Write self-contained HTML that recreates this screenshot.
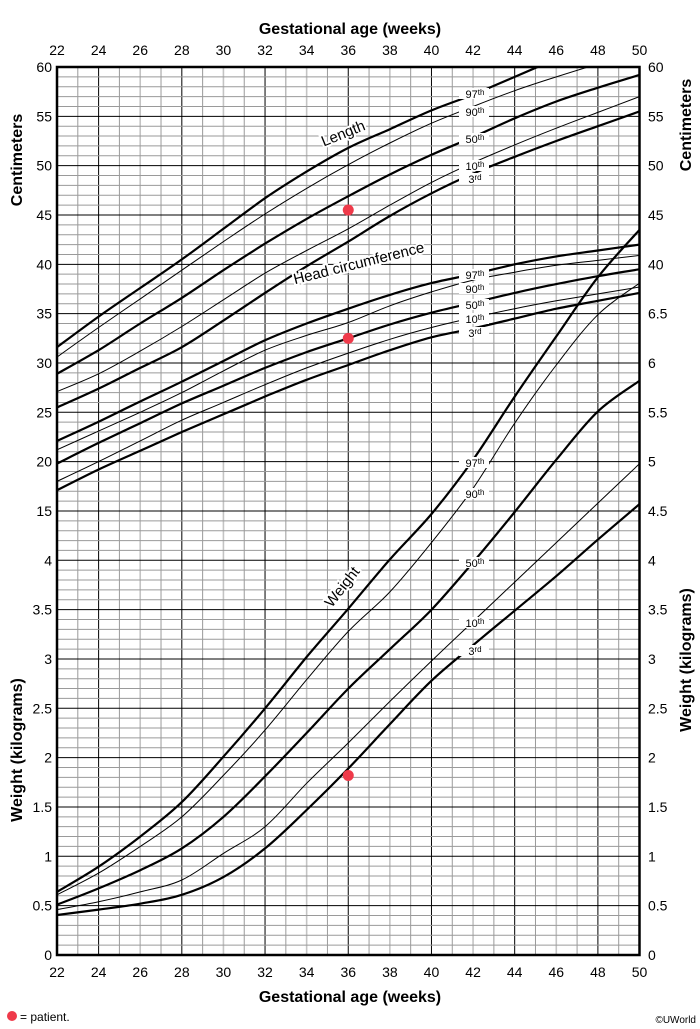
<!DOCTYPE html>
<html><head><meta charset="utf-8"><style>
html,body{margin:0;padding:0;background:#fff;}
svg{display:block;font-family:"Liberation Sans",Arial,sans-serif;}
</style></head><body>
<svg id="chart" width="700" height="1029" viewBox="0 0 700 1029" xmlns="http://www.w3.org/2000/svg">
<g id="grid"></g>
<g id="curves"></g>
<g id="labels"></g>
<g id="axes"></g>
</svg>
<script>
const weeks = [22,24,26,28,30,32,34,36,38,40,42,44,46,48,50];
const lenP97 = [31.6,34.7,37.6,40.5,43.6,46.7,49.4,51.8,53.7,55.6,57.2,59.0,60.8,62.5,64.0];
const lenP90 = [30.6,33.6,36.5,39.4,42.3,45.1,47.7,50.1,52.3,54.3,56.0,57.6,59.0,60.3,61.5];
const lenP50 = [28.9,31.3,34.0,36.6,39.4,42.1,44.6,46.9,49.1,51.1,52.9,54.8,56.5,57.9,59.2];
const lenP10 = [27.1,28.9,31.2,33.7,36.4,39.1,41.4,43.6,46.0,48.3,50.3,52.1,53.8,55.4,57.0];
const lenP3  = [25.5,27.4,29.5,31.6,34.3,37.1,39.8,42.3,44.9,47.2,49.2,50.9,52.5,54.0,55.5];
const hcP97 = [22.1,24.05,26.1,28.1,30.2,32.3,34.0,35.5,36.9,38.1,39.0,40.0,40.8,41.4,42.0];
const hcP90 = [21.2,23.1,25.0,27.0,29.2,31.3,32.8,34.1,35.8,37.2,38.4,39.2,39.9,40.4,40.9];
const hcP50 = [19.8,21.9,23.9,25.9,27.7,29.5,31.1,32.5,33.9,35.1,36.1,37.1,38.0,38.8,39.5];
const hcP10 = [18.0,20.0,22.1,24.2,26.0,27.8,29.5,31.0,32.4,33.6,34.6,35.5,36.3,37.0,37.7];
const hcP3  = [17.1,19.2,21.1,23.0,24.8,26.6,28.3,29.8,31.3,32.6,33.5,34.5,35.5,36.3,37.1];
const wtP97 = [0.64,0.895,1.20,1.55,2.01,2.50,3.02,3.51,4.01,4.47,5.02,5.66,6.27,6.87,7.35];
const wtP90 = [0.61,0.83,1.10,1.40,1.82,2.28,2.79,3.28,3.68,4.18,4.73,5.39,5.98,6.49,6.81];
const wtP50 = [0.51,0.675,0.86,1.08,1.40,1.81,2.25,2.70,3.10,3.50,3.98,4.49,5.02,5.51,5.82];
const wtP10 = [0.46,0.54,0.64,0.76,1.03,1.30,1.74,2.15,2.57,2.98,3.38,3.78,4.18,4.58,4.98];
const wtP3  = [0.405,0.46,0.52,0.61,0.79,1.08,1.47,1.89,2.34,2.78,3.14,3.49,3.84,4.21,4.57];
const patientWeek = 36;
const patientLength = 45.5;
const patientHC = 32.5;
const patientWeight = 1.82;
const xTicks = [22,24,26,28,30,32,34,36,38,40,42,44,46,48,50];
const leftCmTicks = [60,55,50,45,40,35,30,25,20,15];
const leftKgTicks = [4,3.5,3,2.5,2,1.5,1,0.5,0];
const rightCmTicks = [60,55,50,45,40];
const rightKgTicks = [6.5,6,5.5,5,4.5,4,3.5,3,2.5,2,1.5,1,0.5,0];

const X0=57, X1=639.5, YT=67, YB=955, U=49.33;
const xS = w => X0 + (w-22)*(X1-X0)/28;
const yCm = c => YT + (60-c)/5*U;
const yKg = k => YB - k*2*U;
const NS='http://www.w3.org/2000/svg';
function mk(tag, attrs, parent){const e=document.createElementNS(NS,tag);for(const k in attrs)e.setAttribute(k,attrs[k]);parent.appendChild(e);return e;}
const grid=document.getElementById('grid'), curves=document.getElementById('curves'), labels=document.getElementById('labels'), axes=document.getElementById('axes');
const svg=document.getElementById('chart');

for(let w=22;w<=50;w++){
  const x=xS(w);
  const major=(w%4===0);
  const l=mk('line',{x1:x,x2:x,y1:YT,y2:YB,stroke:major?'#000':(w%2? '#9a9a9a':'#c4c4c4'),'stroke-width':major?1:(w%2?1:1.6)},grid);
  
  
}
for(let i=0;i<=90;i++){
  const y=YT+i*U/5;
  const major=(i%5===0);
  const l=mk('line',{x1:X0,x2:X1,y1:y,y2:y,stroke:major?'#000':'#9a9a9a','stroke-width':1},grid);
  
  
}
const cp=mk('clipPath',{id:'pc'},svg);
mk('rect',{x:X0,y:YT,width:X1-X0,height:YB-YT},cp);
curves.setAttribute('clip-path','url(#pc)');

function pathFrom(vals, yf){
  const p=weeks.map((w,i)=>[xS(w),yf(vals[i])]);
  let d='M'+p[0][0]+','+p[0][1];
  for(let i=0;i<p.length-1;i++){
    const p0=p[i-1]||p[i], p1=p[i], p2=p[i+1], p3=p[i+2]||p2;
    const c1=[p1[0]+(p2[0]-p0[0])/6, p1[1]+(p2[1]-p0[1])/6];
    const c2=[p2[0]-(p3[0]-p1[0])/6, p2[1]-(p3[1]-p1[1])/6];
    d+=' C'+c1[0].toFixed(1)+','+c1[1].toFixed(1)+' '+c2[0].toFixed(1)+','+c2[1].toFixed(1)+' '+p2[0].toFixed(1)+','+p2[1].toFixed(1);
  }
  return d;
}
const series=[
 ['length-97th',lenP97,yCm,2.2],['length-90th',lenP90,yCm,1],['length-50th',lenP50,yCm,2.2],['length-10th',lenP10,yCm,1],['length-3rd',lenP3,yCm,2.2],
 ['hc-97th',hcP97,yCm,2.2],['hc-90th',hcP90,yCm,1],['hc-50th',hcP50,yCm,2.2],['hc-10th',hcP10,yCm,1],['hc-3rd',hcP3,yCm,2.2],
 ['weight-97th',wtP97,yKg,2.2],['weight-90th',wtP90,yKg,1],['weight-50th',wtP50,yKg,2.2],['weight-10th',wtP10,yKg,1],['weight-3rd',wtP3,yKg,2.2]];
series.forEach(s=>{
  const p=mk('path',{d:pathFrom(s[1],s[2]),fill:'none',stroke:'#000','stroke-width':s[3]},curves);
  
  
});

const pl=[
 ['97','th',94],['90','th',112],['50','th',139],['10','th',166],['3','rd',179],
 ['97','th',275],['90','th',289],['50','th',305],['10','th',319],['3','rd',333],
 ['97','th',463],['90','th',494],['50','th',563],['10','th',623],['3','rd',651]];
pl.forEach(a=>{
  const r=mk('rect',{x:459,y:a[2]-6,width:30,height:11,fill:'#fff'},labels);
  
  
});
pl.forEach(a=>{
  const t=mk('text',{x:475,y:a[2]+4,'font-size':11,'text-anchor':'middle',fill:'#000'},labels);
  
  
  t.appendChild(document.createTextNode(a[0]));
  const ts=mk('tspan',{'font-size':8,dy:-3},t);ts.textContent=a[1];
});
function rotText(txt,x,y,ang,name){
  const t=mk('text',{x:x,y:y,'font-size':15,'text-anchor':'middle',transform:'rotate('+ang+' '+x+' '+y+')',fill:'#000',stroke:'#fff','stroke-width':4,'paint-order':'stroke'},labels);
  t.textContent=txt;
}
rotText('Length',345,138,-22,'length-label');
rotText('Head circumference',360,268,-14,'head-circumference-label');
rotText('Weight',346,590,-52,'weight-label');

[[patientWeek,yCm(patientLength),'patient-length-point'],[patientWeek,yCm(patientHC),'patient-hc-point'],[patientWeek,yKg(patientWeight),'patient-weight-point']].forEach(p=>{
  const c=mk('circle',{cx:xS(p[0]),cy:p[1],r:5.5,fill:'#ef3a4a'},labels);
  
});

const b=mk('rect',{x:X0,y:YT,width:X1-X0,height:YB-YT,fill:'none',stroke:'#000','stroke-width':2.5},axes);


function txt(s,x,y,opts,name){
  const t=mk('text',Object.assign({x:x,y:y,'font-size':14,fill:'#000'},opts||{}),axes);
  t.textContent=s;return t;
}
xTicks.forEach(w=>{
  txt(String(w),xS(w),55,{'text-anchor':'middle'},'top-x-tick-label');
  txt(String(w),xS(w),977,{'text-anchor':'middle'},'bottom-x-tick-label');
});
leftCmTicks.forEach(c=>txt(String(c),52,yCm(c)+5,{'text-anchor':'end'},'left-cm-tick-label'));
leftKgTicks.forEach(k=>txt(String(k),52,yKg(k)+5,{'text-anchor':'end'},'left-kg-tick-label'));
rightCmTicks.forEach(c=>txt(String(c),648,yCm(c)+5,{},'right-cm-tick-label'));
rightKgTicks.forEach(k=>txt(String(k),648,yKg(k)+5,{},'right-kg-tick-label'));
txt('Gestational age (weeks)',350,34,{'text-anchor':'middle','font-weight':'bold','font-size':16},'top-x-axis-title');
txt('Gestational age (weeks)',350,1002,{'text-anchor':'middle','font-weight':'bold','font-size':16},'bottom-x-axis-title');
txt('Centimeters',22,160,{'text-anchor':'middle','font-weight':'bold','font-size':16,transform:'rotate(-90 22 160)'},'left-cm-axis-title');
txt('Weight (kilograms)',22,750,{'text-anchor':'middle','font-weight':'bold','font-size':16,transform:'rotate(-90 22 750)'},'left-kg-axis-title');
txt('Centimeters',691,125,{'text-anchor':'middle','font-weight':'bold','font-size':16,transform:'rotate(-90 691 125)'},'right-cm-axis-title');
txt('Weight (kilograms)',691,660,{'text-anchor':'middle','font-weight':'bold','font-size':16,transform:'rotate(-90 691 660)'},'right-kg-axis-title');
const ld=mk('circle',{cx:12,cy:1016,r:5,fill:'#ef3a4a'},axes);

txt('= patient.',20,1021,{'font-size':12},'legend-patient-text');
txt('©UWorld',696,1023,{'font-size':10,'text-anchor':'end'},'copyright');
</script>
</body></html>
